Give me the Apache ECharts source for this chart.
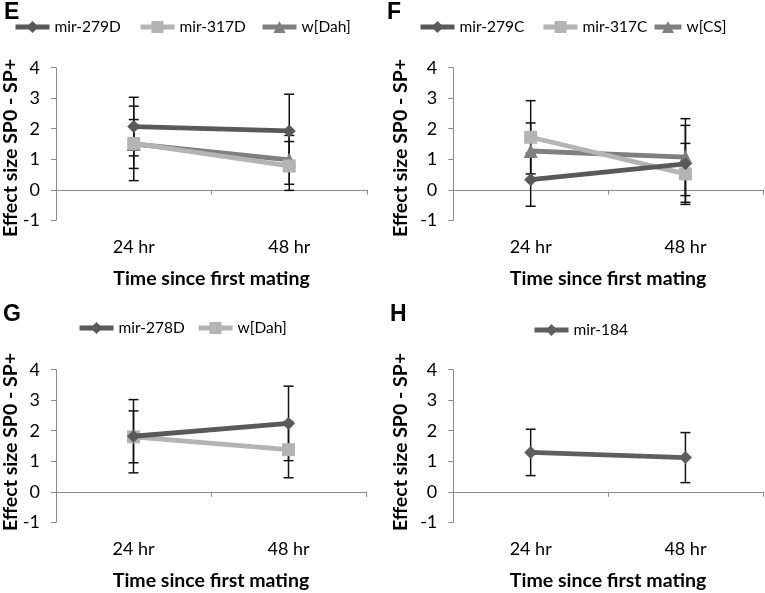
<!DOCTYPE html>
<html><head><meta charset="utf-8">
<script src="https://cdn.jsdelivr.net/npm/echarts@6/dist/echarts.min.js"></script>
<style>html,body{margin:0;padding:0;background:#fff}#c{width:765px;height:593px}</style>
</head><body><div id="c"></div>
<script>
// ---- data ----
const categories = ['24 hr', '48 hr'];
const yMin = -1, yMax = 4, yStep = 1;
const xTitle = 'Time since first mating';
const yTitle = 'Effect size SP0 - SP+';

// Panel E
const eNames = ['mir-279D', 'mir-317D', 'w[Dah]'];
const e279D = [2.07, 1.93];   const e279DErr = [0.96, 1.20];
const e317D = [1.52, 0.78];   const e317DErr = [1.22, 0.80];
const eDah  = [1.50, 0.98];   const eDahErr  = [0.80, 0.80];

// Panel F
const fNames = ['mir-279C', 'mir-317C', 'w[CS]'];
const f279C = [0.33, 0.85];   const f279CErr = [0.87, 1.26];
const f317C = [1.72, 0.52];   const f317CErr = [1.20, 1.00];
const fCS   = [1.27, 1.07];   const fCSErr   = [0.92, 1.26];

// Panel G
const gNames = ['mir-278D', 'w[Dah]'];
const g278D = [1.82, 2.24];   const g278DErr = [1.20, 1.22];
const gDah  = [1.80, 1.38];   const gDahErr  = [0.85, 0.92];

// Panel H
const hNames = ['mir-184'];
const h184 = [1.29, 1.12];    const h184Err = [0.76, 0.82];

// ---- styles ----
const DARK = '#595959', LIGHT = '#b4b4b4', MID = '#7f7f7f';
const FONT = 'Lato';
const AXIS_COLOR = '#8c8c8c';

const panels = [
  { letter: 'E', lx: 4, ly: 1, tx: 11, ty: 148, grid: { left: 56, top: 67.7, width: 311, height: 152.6 },
    series: [
      { name: eNames[0], v: e279D, err: e279DErr, color: DARK, symbol: 'diamond', size: 13, lx: 13, ly: 27, iw: 34 },
      { name: eNames[1], v: e317D, err: e317DErr, color: LIGHT, symbol: 'rect', size: 13, lx: 138, ly: 27, iw: 34 },
      { name: eNames[2], v: eDah, err: eDahErr, color: MID, symbol: 'triangle', size: 14, lx: 260, ly: 27, iw: 34 }
    ] },
  { letter: 'F', lx: 387, ly: 1, tx: 401, ty: 148, grid: { left: 453.3, top: 67.7, width: 309.5, height: 152.6 },
    series: [
      { name: fNames[0], v: f279C, err: f279CErr, color: DARK, symbol: 'diamond', size: 13, lx: 418, ly: 27, iw: 34 },
      { name: fNames[1], v: f317C, err: f317CErr, color: LIGHT, symbol: 'rect', size: 13, lx: 541, ly: 27, iw: 34 },
      { name: fNames[2], v: fCS, err: fCSErr, color: MID, symbol: 'triangle', size: 14, lx: 652, ly: 27, iw: 27 }
    ] },
  { letter: 'G', lx: 3, ly: 303, tx: 11, ty: 442, grid: { left: 56, top: 369.7, width: 310, height: 152.6 },
    series: [
      { name: gNames[0], v: g278D, err: g278DErr, color: DARK, symbol: 'diamond', size: 13, lx: 77, ly: 328, iw: 34 },
      { name: gNames[1], v: gDah, err: gDahErr, color: LIGHT, symbol: 'rect', size: 13, lx: 196, ly: 328, iw: 34 }
    ] },
  { letter: 'H', lx: 390, ly: 303, tx: 401, ty: 442, grid: { left: 453.3, top: 369.7, width: 309.5, height: 152.6 },
    series: [
      { name: hNames[0], v: h184, err: h184Err, color: '#5f5f5f', symbol: 'diamond', size: 13, lx: 532, ly: 330, iw: 34 }
    ] }
];

const option = {
  animation: false,
  backgroundColor: '#fff',
  grid: [], xAxis: [], yAxis: [], series: [], legend: [], graphic: []
};

panels.forEach((p, k) => {
  option.grid.push(p.grid);
  // label axis (bottom of plot)
  option.xAxis.push({
    gridIndex: k, type: 'category', data: categories, position: 'bottom',
    axisLine: { show: false, onZero: false }, axisTick: { show: false },
    axisLabel: { margin: 18, fontSize: 18, color: '#000', fontFamily: FONT },
    name: xTitle, nameLocation: 'middle', nameGap: 48,
    nameTextStyle: { fontSize: 19.5, fontWeight: 'bold', color: '#000', fontFamily: FONT }
  });
  // zero line axis
  option.xAxis.push({
    gridIndex: k, type: 'category', data: categories, position: 'bottom',
    axisLine: { show: true, onZero: true, lineStyle: { color: AXIS_COLOR, width: 1 } },
    axisTick: { show: true, length: 5, lineStyle: { color: AXIS_COLOR } },
    axisLabel: { show: false }
  });
  option.yAxis.push({
    gridIndex: k, type: 'value', min: yMin, max: yMax, interval: yStep,
    axisLine: { show: true, lineStyle: { color: AXIS_COLOR, width: 1 } },
    axisTick: { show: true, length: 5, lineStyle: { color: AXIS_COLOR } },
    splitLine: { show: false },
    axisLabel: { margin: 16, fontSize: 18, color: '#000', fontFamily: FONT }
  });
  option.graphic.push({
    type: 'text', left: p.lx, top: p.ly,
    style: { text: p.letter, font: 'bold 23px "Liberation Sans"', fill: '#000' }
  });
  option.graphic.push({
    type: 'text', x: p.tx, y: p.ty, rotation: Math.PI / 2,
    style: { text: yTitle, font: 'bold 19.5px Lato', fill: '#000', align: 'center', verticalAlign: 'middle' }
  });
  p.series.forEach((s, j) => {
    const sid = p.letter + ':' + s.name;
    option.series.push({
      type: 'custom', xAxisIndex: 2 * k, yAxisIndex: k, z: 1, silent: true,
      data: s.v.map((m, i) => [i, m - s.err[i], m + s.err[i]]),
      renderItem: function (params, api) {
        const x = api.value(0);
        const lo = api.coord([x, api.value(1)]);
        const hi = api.coord([x, api.value(2)]);
        const hw = 5;
        const st = { stroke: '#111', lineWidth: 1.5 };
        return { type: 'group', children: [
          { type: 'line', shape: { x1: lo[0], y1: lo[1], x2: hi[0], y2: hi[1] }, style: st },
          { type: 'line', shape: { x1: lo[0] - hw, y1: lo[1], x2: lo[0] + hw, y2: lo[1] }, style: st },
          { type: 'line', shape: { x1: hi[0] - hw, y1: hi[1], x2: hi[0] + hw, y2: hi[1] }, style: st }
        ] };
      }
    });
    option.series.push({
      type: 'line', name: sid, xAxisIndex: 2 * k, yAxisIndex: k, z: 3 + (p.series.length - j),
      data: s.v, symbol: s.symbol, symbolSize: s.size, showSymbol: true,
      lineStyle: { color: s.color, width: 4.8 }, itemStyle: { color: s.color },
      emphasis: { disabled: true }
    });
    option.legend.push({
      data: [sid], left: s.lx, top: s.ly - 8, padding: 0,
      itemWidth: s.iw, itemHeight: 15, selectedMode: false,
      lineStyle: { width: 5 },
      formatter: (n) => n.slice(n.indexOf(':') + 1),
      textStyle: { fontSize: 15.5, color: '#000', fontFamily: FONT }
    });
  });
});

const chart = echarts.init(document.getElementById('c'));
chart.setOption(option);
</script>
</body></html>
